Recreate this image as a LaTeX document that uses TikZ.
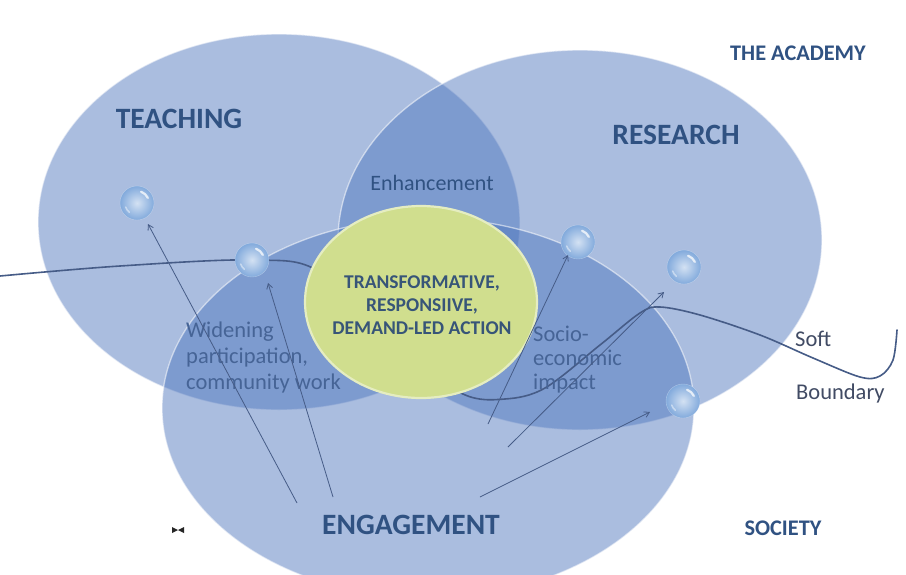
\documentclass[tikz,border=0pt]{standalone}
\usepackage{fontspec}
\setmainfont{Carlito}
\usetikzlibrary{arrows.meta}
\definecolor{setfill}{RGB}{78,118,190}
\definecolor{yel}{RGB}{208,222,142}
\definecolor{titlec}{RGB}{48,82,130}
\definecolor{subc}{RGB}{70,100,150}
\definecolor{linec}{RGB}{70,92,135}
\definecolor{bubc}{RGB}{130,170,220}
\definecolor{grayc}{RGB}{65,75,100}
\tikzset{
  setell/.style={fill=setfill, fill opacity=0.48, draw=white, draw opacity=0.55, line width=1.3pt},
  bubble/.style={circle, minimum size=34pt, inner sep=0pt, inner color=bubc!35!white, outer color=bubc, draw=white, draw opacity=0.35},
  bigt/.style={font=\fontsize{29.5}{30}\selectfont\bfseries, text=titlec},
  realm/.style={font=\fontsize{22.3}{24}\selectfont\bfseries, text=titlec},
  midt/.style={font=\fontsize{22.5}{26}\selectfont, text=subc, align=left},
  ptr/.style={draw=linec, line width=0.8pt, -{Straight Barb[length=5pt,width=6pt]}},
  soft/.style={draw=linec, line width=1.6pt, line cap=round}
}
\begin{document}
\begin{tikzpicture}[x=1pt,y=-1pt]
\useasboundingbox (0,0) rectangle (906,574);
\fill[white] (0,0) rectangle (906,574);
% three sets
\path[setell] (279,222) ellipse [x radius=241pt, y radius=188pt];
\path[setell] (580,240) ellipse [x radius=242pt, y radius=190pt];
\path[setell] (428,408) ellipse [x radius=266pt, y radius=190pt];
% soft boundary
\draw[soft] plot[smooth, tension=0.55] coordinates {(0,276) (120,266) (252,260) (320,272) (400,350) (463,394) (505,399) (545,388) (600,345) (640,313) (660,307) (700,315) (760,335) (813,358) (860,377) (880,376) (893,360) (897,330)};
% centre
\path[fill=yel, draw=yel!55!white, line width=2.2pt] (421,302) ellipse [x radius=116pt, y radius=96pt];
% bubbles
\node[bubble] (b1) at (137,203) {};
\node[bubble] (b2) at (252,260) {};
\node[bubble] (b3) at (578,242) {};
\node[bubble] (b4) at (684,267) {};
\node[bubble] (b5) at (683,401) {};
\foreach \b in {b1,b2,b3,b4,b5}{
  \draw[white, line width=2.2pt, opacity=0.75, line cap=round] ([shift={(70:12pt)}]\b.center) arc[start angle=70, end angle=25, radius=12pt];
  \draw[white, line width=1.6pt, opacity=0.45, line cap=round] ([shift={(230:12pt)}]\b.center) arc[start angle=230, end angle=200, radius=12pt];
}
% labels
\node[bigt] (teach) at (179,119) {TEACHING};
\node[bigt] (res) at (676,135) {RESEARCH};
\node[bigt] (eng) at (411,525) {ENGAGEMENT};
\node[realm] (acad) at (798,53) {THE ACADEMY};
\node[realm] (soc) at (783,528) {SOCIETY};
\node[font=\fontsize{22}{24}\selectfont, text=titlec] (enh) at (432,183) {Enhancement};
\node[font=\fontsize{19.5}{23}\selectfont\bfseries, text={rgb,255:red,55;green,85;blue,120}, align=center] (core) at (422,305) {TRANSFORMATIVE,\\RESPONSIIVE,\\DEMAND-LED ACTION};
\node[midt, anchor=west, inner sep=0pt] (wide) at (186,357) {Widening\\participation,\\community work};
\node[midt, anchor=west, inner sep=0pt, font=\fontsize{22.5}{24}\selectfont] (socio) at (533,360) {Socio-\\economic\\impact};
\node[font=\fontsize{22.5}{24}\selectfont, text=grayc, anchor=west, inner sep=0pt] (softl) at (795,339) {Soft};
\node[font=\fontsize{22.5}{24}\selectfont, text=grayc, anchor=west, inner sep=0pt] (bound) at (796,393) {Boundary};
% arrows
\coordinate (t1) at (297,503); \coordinate (h1) at (148,224);
\coordinate (t2) at (333,497); \coordinate (h2) at (268,283);
\coordinate (t3) at (488,424); \coordinate (h3) at (568,255);
\coordinate (t4) at (508,447); \coordinate (h4) at (664,292);
\coordinate (t5) at (480,497); \coordinate (h5) at (650,412);
\draw[ptr] (t1) -- (h1);
\draw[ptr] (t2) -- (h2);
\draw[ptr] (t3) -- (h3);
\draw[ptr] (t4) -- (h4);
\draw[ptr] (t5) -- (h5);
% small bowtie mark
\coordinate (bt) at (178,530);
\fill[black!85] ([shift={(-6pt,-3pt)}]bt) -- ([shift={(-6pt,3pt)}]bt) -- (bt) -- cycle;
\fill[black!85] ([shift={(6pt,-3pt)}]bt) -- ([shift={(6pt,3pt)}]bt) -- (bt) -- cycle;
\end{tikzpicture}
\end{document}
